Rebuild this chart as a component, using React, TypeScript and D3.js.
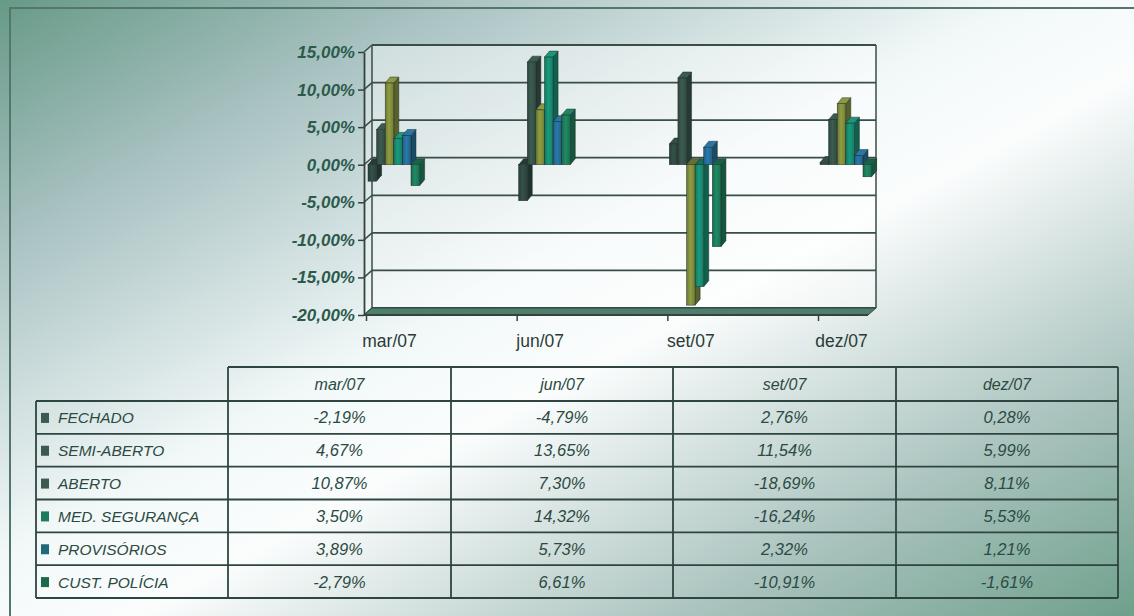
import React, { useEffect, useRef } from 'react';
import * as d3 from 'd3';

const categories = ['mar/07', 'jun/07', 'set/07', 'dez/07'];
const seriesNames = ['FECHADO', 'SEMI-ABERTO', 'ABERTO', 'MED. SEGURANÇA', 'PROVISÓRIOS', 'CUST. POLÍCIA'];

const fechado = [-2.19, -4.79, 2.76, 0.28];
const semiAberto = [4.67, 13.65, 11.54, 5.99];
const aberto = [10.87, 7.3, -18.69, 8.11];
const medSeguranca = [3.5, 14.32, -16.24, 5.53];
const provisorios = [3.89, 5.73, 2.32, 1.21];
const custPolicia = [-2.79, 6.61, -10.91, -1.61];

const yTicks = [15, 10, 5, 0, -5, -10, -15, -20];

const seriesValues = [fechado, semiAberto, aberto, medSeguranca, provisorios, custPolicia];
const barColors = ['#304a44', '#38544a', '#83903c', '#178e72', '#266f9c', '#1d7f5c'];
const legendColors = ['#3d5a50', '#3d5a50', '#3d5a50', '#1c7a60', '#1e6a7a', '#1d6a4b'];

const FONT = '"Liberation Sans", Arial, sans-serif';

const App = () => {
  const svgRef = useRef(null);

  useEffect(() => {
    const svg = d3.select(svgRef.current);
    svg.selectAll('*').remove();

    const width = 1134;
    const height = 616;

    const locale = d3.formatLocale({ decimal: ',', thousands: '.', grouping: [3], currency: ['', ''], minus: '-' });
    const pct = (v) => locale.format('.2f')(v) + '%';

    // background gradient
    const defs = svg.append('defs');
    const bg = defs.append('linearGradient').attr('id', 'bg')
      .attr('x1', 0).attr('y1', 0).attr('x2', 1).attr('y2', 1);
    [[0, '#679a87'], [0.2, '#a9c2c2'], [0.45, '#f2f8f8'], [0.56, '#fbfdfd'], [0.8, '#abc4bf'], [1, '#6fa08c']]
      .forEach(([o, c]) => bg.append('stop').attr('offset', o).attr('stop-color', c));

    svg.append('rect').attr('width', width).attr('height', height).attr('fill', 'url(#bg)');
    svg.append('path').attr('d', 'M10,616 V8 H1134')
      .attr('fill', 'none').attr('stroke', '#55766c').attr('stroke-width', 2);

    // chart scales
    const x = d3.scalePoint(categories, [366, 818]);
    const y = d3.scaleLinear([-20, 15], [315, 52]);
    const x1 = d3.scaleBand(seriesNames, [2, 2 + 6 * 8.6]);

    const axisLeftX = 364;
    const wallDx = 8;
    const wallDy = -7;
    const backRight = 876;

    const chart = svg.append('g');

    // side wall
    chart.append('path')
      .attr('d', `M${axisLeftX},${y(15)} L${axisLeftX + wallDx},${y(15) + wallDy} L${axisLeftX + wallDx},${y(-20) + wallDy} L${axisLeftX},${y(-20)} Z`)
      .attr('fill', '#ffffff').attr('fill-opacity', 0.35);
    // back wall
    chart.append('rect')
      .attr('x', axisLeftX + wallDx).attr('y', y(15) + wallDy)
      .attr('width', backRight - axisLeftX - wallDx).attr('height', y(-20) - y(15))
      .attr('fill', '#ffffff').attr('fill-opacity', 0.45);

    // gridlines
    yTicks.forEach(t => {
      chart.append('line')
        .attr('x1', axisLeftX + wallDx).attr('x2', backRight)
        .attr('y1', y(t) + wallDy).attr('y2', y(t) + wallDy)
        .attr('stroke', '#3a4d47').attr('stroke-width', 1.8);
      chart.append('line')
        .attr('x1', axisLeftX).attr('x2', axisLeftX + wallDx)
        .attr('y1', y(t)).attr('y2', y(t) + wallDy)
        .attr('stroke', '#3a4d47').attr('stroke-width', 1.5);
    });
    chart.append('line')
      .attr('x1', axisLeftX + wallDx).attr('x2', axisLeftX + wallDx)
      .attr('y1', y(15) + wallDy).attr('y2', y(-20) + wallDy)
      .attr('stroke', '#3a4d47').attr('stroke-width', 1.5);
    chart.append('line')
      .attr('x1', backRight).attr('x2', backRight)
      .attr('y1', y(15) + wallDy).attr('y2', y(-20) + wallDy)
      .attr('stroke', '#3a4d47').attr('stroke-width', 1.5);

    // floor
    const xFrontEnd = backRight - wallDx;
    chart.append('path')
      .attr('d', `M${axisLeftX},${y(-20)} L${axisLeftX + wallDx},${y(-20) + wallDy} L${backRight},${y(-20) + wallDy} L${xFrontEnd},${y(-20)} Z`)
      .attr('fill', '#4f7f6c').attr('stroke', '#2f4a42').attr('stroke-width', 1);

    // bars
    const depthDx = 5;
    const depthDy = -6;
    seriesNames.forEach((name, s) => {
      const base = d3.color(barColors[s]);
      const g = defs.append('linearGradient').attr('id', `bar${s}`).attr('x1', 0).attr('x2', 1).attr('y1', 0).attr('y2', 0);
      g.append('stop').attr('offset', 0).attr('stop-color', base.darker(0.5).formatHex());
      g.append('stop').attr('offset', 0.45).attr('stop-color', base.brighter(0.25).formatHex());
      g.append('stop').attr('offset', 1).attr('stop-color', base.darker(0.4).formatHex());
    });

    const bars = chart.append('g');
    categories.forEach((cat, i) => {
      seriesNames.forEach((name, s) => {
        const v = seriesValues[s][i];
        const base = d3.color(barColors[s]);
        const x0 = x(cat) + x1(name);
        const w = x1.bandwidth();
        const top = Math.min(y(v), y(0));
        const bottom = Math.max(y(v), y(0));
        bars.append('path')
          .attr('d', `M${x0 + w},${top} L${x0 + w + depthDx},${top + depthDy} L${x0 + w + depthDx},${bottom + depthDy} L${x0 + w},${bottom} Z`)
          .attr('fill', base.darker(1.1).formatHex()).attr('stroke', '#1f2e2a').attr('stroke-width', 0.5);
        bars.append('path')
          .attr('d', `M${x0},${top} L${x0 + depthDx},${top + depthDy} L${x0 + w + depthDx},${top + depthDy} L${x0 + w},${top} Z`)
          .attr('fill', v >= 0 ? base.brighter(0.2).formatHex() : base.darker(0.7).formatHex())
          .attr('stroke', '#1f2e2a').attr('stroke-width', 0.5);
        bars.append('rect')
          .attr('x', x0).attr('y', top).attr('width', w).attr('height', Math.max(bottom - top, 0.5))
          .attr('fill', `url(#bar${s})`).attr('stroke', '#1f2e2a').attr('stroke-width', 0.5);
      });
    });

    // y axis
    const yAxis = svg.append('g')
      .attr('transform', `translate(${axisLeftX},0)`)
      .call(d3.axisLeft(y).tickValues(yTicks).tickSize(6).tickSizeOuter(0).tickFormat(pct));
    yAxis.select('.domain').attr('stroke', '#33443f').attr('stroke-width', 1.8);
    yAxis.selectAll('.tick line').attr('stroke', '#33443f').attr('stroke-width', 1.5);
    yAxis.selectAll('text')
      .attr('fill', '#2b5a4b').attr('font-family', FONT).attr('font-size', 17)
      .attr('font-weight', 'bold').attr('font-style', 'italic');

    // x axis
    const xAxis = svg.append('g')
      .attr('transform', `translate(0,${y(-20)})`)
      .call(d3.axisBottom(x).tickSize(6).tickSizeOuter(0));
    xAxis.select('.domain').remove();
    xAxis.append('line').attr('x1', axisLeftX).attr('x2', xFrontEnd).attr('y1', 0).attr('y2', 0)
      .attr('stroke', '#33443f').attr('stroke-width', 1.8);
    xAxis.selectAll('.tick line').attr('stroke', '#33443f').attr('stroke-width', 1.5);
    xAxis.selectAll('text')
      .attr('dx', 23).attr('y', 20)
      .attr('fill', '#2b3b37').attr('font-family', FONT).attr('font-size', 17.5);

    // data table
    const colX = [36, 228, 451, 673, 896, 1118];
    const headerTop = 367;
    const rowTop = 401;
    const rowBottom = 598;
    const rowH = (rowBottom - rowTop) / seriesNames.length;
    const tStroke = '#2e4540';
    const table = svg.append('g');

    table.append('line').attr('x1', colX[1]).attr('x2', colX[5]).attr('y1', headerTop).attr('y2', headerTop)
      .attr('stroke', tStroke).attr('stroke-width', 1.8);
    d3.range(seriesNames.length + 1).forEach(k => {
      const yy = rowTop + k * rowH;
      table.append('line').attr('x1', colX[0]).attr('x2', colX[5]).attr('y1', yy).attr('y2', yy)
        .attr('stroke', tStroke).attr('stroke-width', 1.8);
    });
    colX.forEach((cx, k) => {
      table.append('line').attr('x1', cx).attr('x2', cx)
        .attr('y1', k === 0 ? rowTop : headerTop).attr('y2', rowBottom)
        .attr('stroke', tStroke).attr('stroke-width', 1.8);
    });

    const textColor = '#2c4a42';
    categories.forEach((cat, i) => {
      table.append('text')
        .attr('x', (colX[i + 1] + colX[i + 2]) / 2).attr('y', (headerTop + rowTop) / 2 + 6)
        .attr('text-anchor', 'middle').attr('font-family', FONT).attr('font-size', 16)
        .attr('font-style', 'italic').attr('fill', textColor).text(cat);
    });

    seriesNames.forEach((name, s) => {
      const cy = rowTop + s * rowH + rowH / 2;
      table.append('rect').attr('x', 41).attr('y', cy - 4.5).attr('width', 8).attr('height', 10)
        .attr('fill', legendColors[s]);
      table.append('text')
        .attr('x', 58).attr('y', cy + 6)
        .attr('font-family', FONT).attr('font-size', 15.5).attr('font-style', 'italic')
        .attr('fill', textColor).text(name);
      seriesValues[s].forEach((v, i) => {
        table.append('text')
          .attr('x', (colX[i + 1] + colX[i + 2]) / 2).attr('y', cy + 6)
          .attr('text-anchor', 'middle').attr('font-family', FONT).attr('font-size', 16.5)
          .attr('font-style', 'italic').attr('fill', textColor).text(pct(v));
      });
    });
  }, []);

  return (
    <svg
      ref={svgRef}
      width={1134}
      height={616}
      viewBox="0 0 1134 616"
      style={{ position: 'absolute', left: 0, top: 0, display: 'block' }}
    />
  );
};

export default App;
